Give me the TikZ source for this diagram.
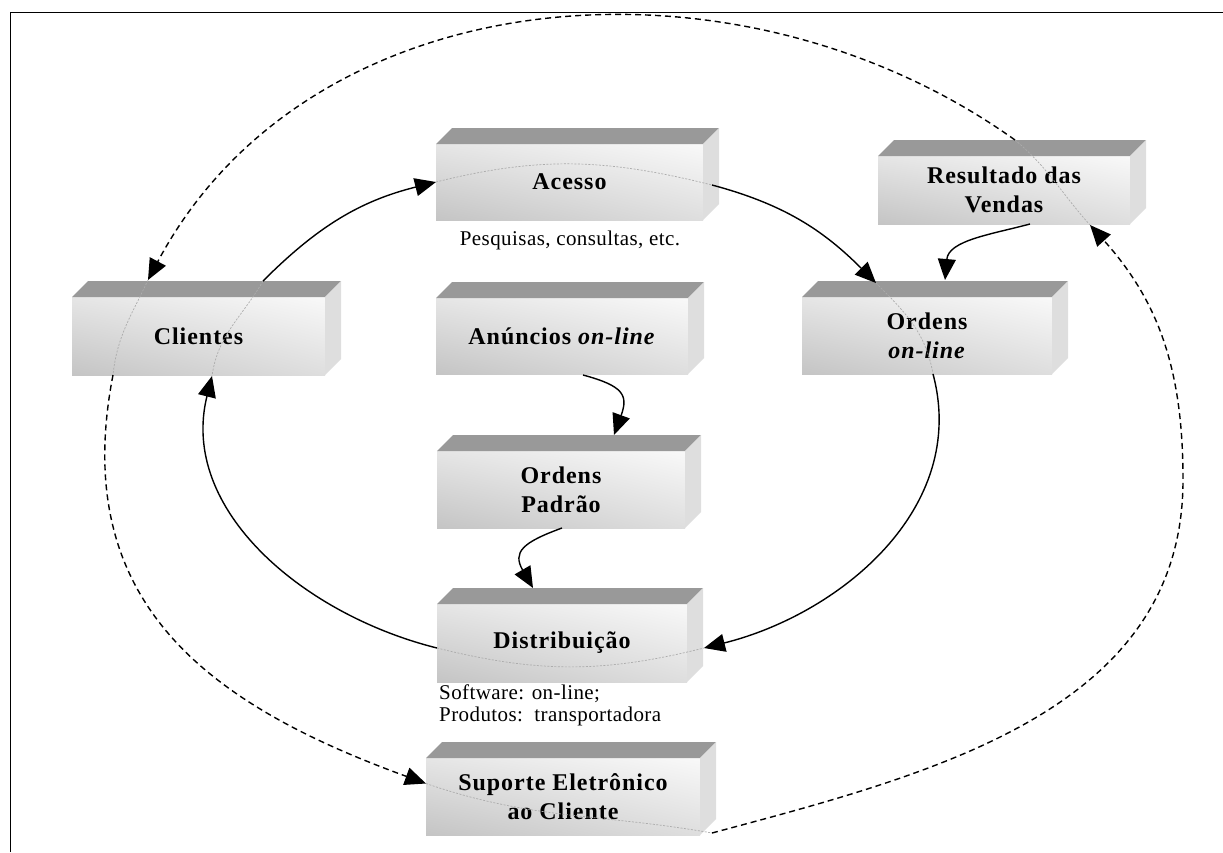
\documentclass[tikz,border=0pt]{standalone}
\usepackage{fontspec}
\setmainfont{Liberation Serif}
\newfontfamily\boxfont[LetterSpace=4]{Liberation Serif}
\newfontfamily\notefont[LetterSpace=2]{Liberation Serif}
\usetikzlibrary{arrows.meta,calc,shadings}
\tikzset{
  front/.style={inner sep=0pt, outer sep=0pt, align=center,
    font=\boxfont\fontsize{24}{29}\selectfont\bfseries,
    upper left=gray!20, upper right=gray!5, lower left=gray!46, lower right=gray!26},
  topface/.style={fill=gray!80},
  sideface/.style={fill=gray!26},
  note/.style={inner sep=0pt, font=\notefont\fontsize{21}{22}\selectfont},
  frame/.style={line width=1.5pt},
  conn/.style={line width=1.4pt, -{Triangle[length=21pt,width=18pt]}},
  dconn/.style={conn, dash pattern=on 6pt off 4pt},
  faint/.style={gray!65, line width=0.7pt, dash pattern=on 2pt off 1.5pt},
}
\newcommand\cubebox[6]{%
  \node[front, minimum width={(#4-#2)*1pt}, minimum height={(#5-#3)*1pt}]
    (#1) at ({(#2+#4)/2},{-(#3+#5)/2}) {#6};
  \fill[topface] (#1.north west) -- ++(16,16) -- ($(#1.north east)+(16,16)$) -- (#1.north east) -- cycle;
  \fill[sideface] (#1.north east) -- ++(16,16) -- ($(#1.south east)+(16,16)$) -- (#1.south east) -- cycle;
}
\begin{document}
\begin{tikzpicture}[x=1pt,y=1pt]
\useasboundingbox (0,0) rectangle (1223,-852);
\draw[frame] (10.5,-852) -- (10.5,-12.5) -- (1223,-12.5);

\cubebox{acc}{436}{144}{703}{220}{Acesso}
\cubebox{cli}{72}{297}{325}{375}{Clientes}
\cubebox{res}{878}{156}{1130}{224}{Resultado das\\Vendas}
\cubebox{ordon}{802}{297}{1052}{374}{Ordens\\\textit{on-line}}
\cubebox{anu}{436}{298}{688}{374}{Anúncios \textit{on-line}}
\cubebox{padr}{437}{451}{685}{528}{Ordens\\Padrão}
\cubebox{dist}{437}{604}{687}{682}{Distribuição}
\cubebox{sup}{426}{758}{700}{835}{Suporte Eletrônico\\ao Cliente}

% faint traces of the two loops seen through the boxes
\draw[faint] (acc.west) to[out=14,in=166] ($(acc.east)+(9,-3)$);
\draw[faint] ($(cli.north west)+(191,16)$) to[out=240,in=82] ($(cli.south)+(13.5,-1)$);
\draw[faint] ($(cli.north west)+(76,17)$) to[out=245,in=84] ($(cli.south west)+(41,0)$);
\draw[faint] ($(ordon.north west)+(74,14)$) to[out=-45,in=100] ($(ordon.south)+(6,0)$);
\draw[faint] ($(dist.west)+(0,-5)$) to[out=-14,in=194] ($(dist.east)+(17,-5)$);
\draw[faint] ($(res.north)+(11,16)$) to[out=-40,in=132] ($(res.south east)+(-40,-1)$);
\draw[faint] ($(sup.west)+(0,13)$) to[out=-19,in=170] ($(sup.south east)+(12,2)$);

\node[note, anchor=base] (lpes) at (570,-245) {Pesquisas, consultas, etc.};
\node[note, anchor=base west] (lsoft) at (439,-699) {Software: on-line;};
\node[note, anchor=base west] (lprod) at (439,-721) {Produtos:\ \ transportadora};

\draw[conn] ($(cli.north west)+(191,16)$) to[out=45,in=194] (acc.west);
\draw[conn] ($(acc.east)+(9,-3)$) to[out=-15,in=135] ($(ordon.north west)+(74,14)$);
\draw[conn] ($(res.south)+(26,0)$) to[out=195,in=85] ($(ordon.north west)+(143,17)$);
\draw[conn] ($(ordon.south)+(6,0)$) to[out=-75,in=14] ($(dist.east)+(17,-5)$);
\draw[conn] ($(dist.west)+(0,-5)$) to[out=166,in=256] ($(cli.south)+(13.5,-1)$);
\draw[conn] ($(anu.south)+(21,-1)$) to[out=-15,in=70,looseness=1.6] ($(padr.north)+(53,16)$);
\draw[conn] ($(padr.south)+(1,0)$) to[out=200,in=120,looseness=1.6] ($(dist.north)+(-29,16)$);

\draw[dconn] ($(res.north)+(11,16)$) to[out=144.5,in=62] ($(cli.north west)+(76,17)$);
\draw[dconn] ($(cli.south west)+(41,0)$) to[out=259,in=160,looseness=1.15] ($(sup.west)+(0,13)$);
\coordinate (rx) at (1183,-480);
\draw[dconn] ($(sup.south east)+(12,2)$) to[out=15,in=270] (rx) to[out=90,in=-48] ($(res.south east)+(-40,-1)$);
\end{tikzpicture}
\end{document}
